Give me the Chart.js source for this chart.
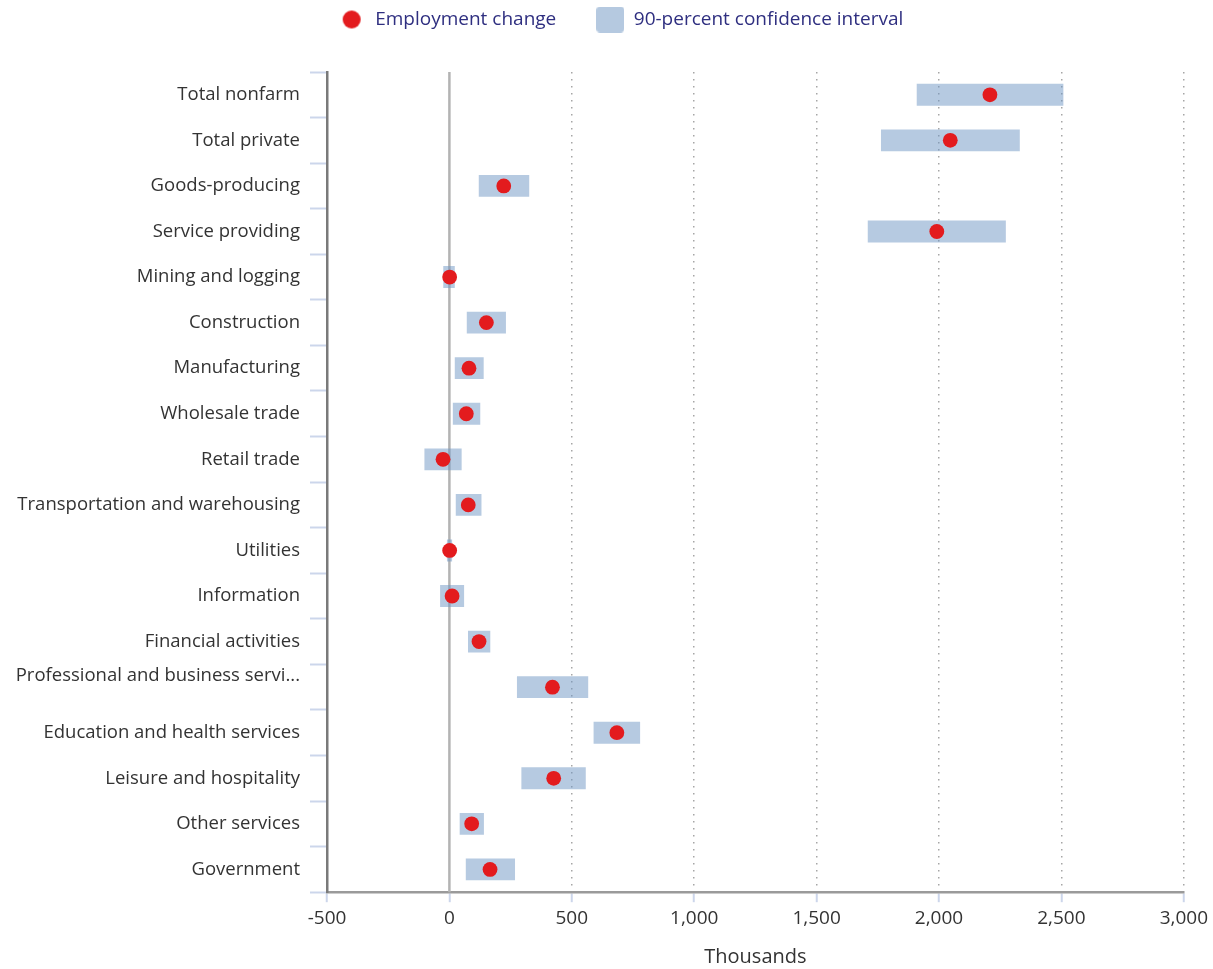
<!DOCTYPE html>
<html>
<head>
<meta charset="utf-8">
<title>Employment change by industry</title>
<script src="https://cdn.jsdelivr.net/npm/chart.js@4/dist/chart.umd.min.js"></script>
<style>
  html, body { margin: 0; padding: 0; background: #ffffff; }
  #wrap { width: 1213px; height: 969px; }
</style>
</head>
<body>
<div id="wrap"><canvas id="chart" width="1213" height="969"></canvas></div>
<script>
// Industries, top to bottom
const categories = [
  'Total nonfarm',
  'Total private',
  'Goods-producing',
  'Service providing',
  'Mining and logging',
  'Construction',
  'Manufacturing',
  'Wholesale trade',
  'Retail trade',
  'Transportation and warehousing',
  'Utilities',
  'Information',
  'Financial activities',
  'Professional and business services',
  'Education and health services',
  'Leisure and hospitality',
  'Other services',
  'Government'
];

// Employment change, thousands
const employmentChange = [2208, 2046, 222, 1991, 1, 151, 80, 69, -26, 77, 1, 11, 121, 421, 684, 426, 91, 166];

// 90-percent confidence interval bounds, thousands
const ciLow  = [1909, 1763, 120, 1709, -25, 71, 22, 14, -102, 26, -10, -38, 76, 276, 589, 294, 42, 67];
const ciHigh = [2508, 2330, 326, 2273, 22, 231, 140, 126, 50, 131, 11, 60, 167, 567, 779, 557, 141, 268];

// Value axis ticks
const xTickValues = [-500, 0, 500, 1000, 1500, 2000, 2500, 3000];

const seriesNames = ['Employment change', '90-percent confidence interval'];

const RED = '#e31b1e';
const BAND = 'rgba(110,150,196,0.5)';
const BAND_SOLID = '#b5c9e0';
const FONT = "'Open Sans', 'Noto Sans', sans-serif";

// Legend symbols
function makeDot() {
  const c = document.createElement('canvas');
  c.width = 20; c.height = 20;
  const g = c.getContext('2d');
  g.fillStyle = RED;
  g.beginPath(); g.arc(10, 10, 9, 0, Math.PI * 2); g.fill();
  return c;
}
function makeBox() {
  const c = document.createElement('canvas');
  c.width = 28; c.height = 26;
  const g = c.getContext('2d');
  g.fillStyle = BAND_SOLID;
  g.beginPath(); g.roundRect(0, 0, 28, 26, 4); g.fill();
  return c;
}
const dotSymbol = makeDot();
const boxSymbol = makeBox();

// Zero reference line
const zeroLine = {
  id: 'zeroLine',
  beforeDatasetsDraw(chart) {
    const x = chart.scales.x.getPixelForValue(0);
    const { top, bottom } = chart.chartArea;
    const ctx = chart.ctx;
    ctx.save();
    ctx.strokeStyle = '#b3b3b3';
    ctx.lineWidth = 2.5;
    ctx.beginPath();
    ctx.moveTo(x, top);
    ctx.lineTo(x, bottom);
    ctx.stroke();
    ctx.restore();
  }
};

// Legend: extra room below it, nudged slightly right
const legendPlacement = {
  id: 'legendPlacement',
  beforeInit(chart) {
    if (!chart.legend) return;
    const fit = chart.legend.fit;
    chart.legend.fit = function () {
      fit.call(this);
      this.height += 33;
    };
  },
  afterLayout(chart) {
    const legend = chart.legend;
    if (!legend) return;
    legend.left += 24;
    legend.right += 24;
  }
};

const chart = new Chart(document.getElementById('chart'), {
  data: {
    labels: categories,
    datasets: [
      {
        type: 'line',
        label: seriesNames[0],
        indexAxis: 'y',
        data: employmentChange,
        showLine: false,
        pointRadius: 7.4,
        pointHoverRadius: 8.5,
        pointBackgroundColor: RED,
        pointBorderWidth: 0,
        borderColor: RED,
        backgroundColor: RED,
        order: 0
      },
      {
        type: 'bar',
        label: seriesNames[1],
        indexAxis: 'y',
        data: ciLow.map((lo, i) => [lo, ciHigh[i]]),
        backgroundColor: BAND,
        borderWidth: 0,
        barPercentage: 0.48,
        categoryPercentage: 1,
        order: 1
      }
    ]
  },
  options: {
    indexAxis: 'y',
    responsive: false,
    animation: false,
    layout: { padding: { top: -30, left: 0, right: 20, bottom: 0 } },
    plugins: {
      legend: {
        position: 'top',
        align: 'center',
        labels: {
          usePointStyle: true,
          pointStyleWidth: 28,
          padding: 40,
          color: '#2f2f80',
          font: { family: FONT, size: 19 },
          generateLabels(chart) {
            return [
              { text: seriesNames[0], pointStyle: dotSymbol, datasetIndex: 0,
                hidden: !chart.isDatasetVisible(0), fontColor: '#2f2f80', lineWidth: 0 },
              { text: seriesNames[1], pointStyle: boxSymbol, datasetIndex: 1,
                hidden: !chart.isDatasetVisible(1), fontColor: '#2f2f80', lineWidth: 0 }
            ];
          }
        }
      },
      tooltip: { enabled: true }
    },
    scales: {
      x: {
        type: 'linear',
        position: 'bottom',
        min: xTickValues[0],
        max: xTickValues[xTickValues.length - 1],
        afterBuildTicks(scale) {
          scale.ticks = xTickValues.map(v => ({ value: v }));
        },
        ticks: {
          color: '#333333',
          font: { family: FONT, size: 19 },
          padding: 5,
          maxRotation: 0,
          callback: v => Number(v).toLocaleString('en-US')
        },
        grid: {
          drawOnChartArea: true,
          color: ctx => (ctx.tick && (ctx.tick.value === 0 || ctx.tick.value === xTickValues[0]))
            ? 'rgba(0,0,0,0)' : '#a6a6a6',
          lineWidth: 1.5,
          drawTicks: true,
          tickLength: 10,
          tickColor: '#ccd6eb',
          tickWidth: 2,
          tickBorderDash: []
        },
        border: { display: true, color: '#9a9a9a', width: 2.5, dash: [1.5, 5.5] },
        title: {
          display: true,
          text: 'Thousands',
          color: '#333333',
          font: { family: FONT, size: 20 },
          padding: { top: 10, bottom: 0 }
        }
      },
      y: {
        type: 'category',
        offset: true,
        afterFit(scale) { scale.width = 327; },
        ticks: {
          color: '#333333',
          font: { family: FONT, size: 18.5 },
          padding: 10,
          autoSkip: false,
          callback(value) {
            const label = this.getLabelForValue(value);
            return label.length > 31 ? [label.slice(0, 31) + '...', ''] : label;
          }
        },
        grid: {
          drawOnChartArea: false,
          drawTicks: true,
          tickLength: 17,
          tickColor: '#ccd6eb',
          tickWidth: 2,
          offset: true
        },
        border: { display: true, color: '#7a7a7a', width: 2.5 }
      }
    }
  },
  plugins: [zeroLine, legendPlacement]
});
</script>
</body>
</html>
